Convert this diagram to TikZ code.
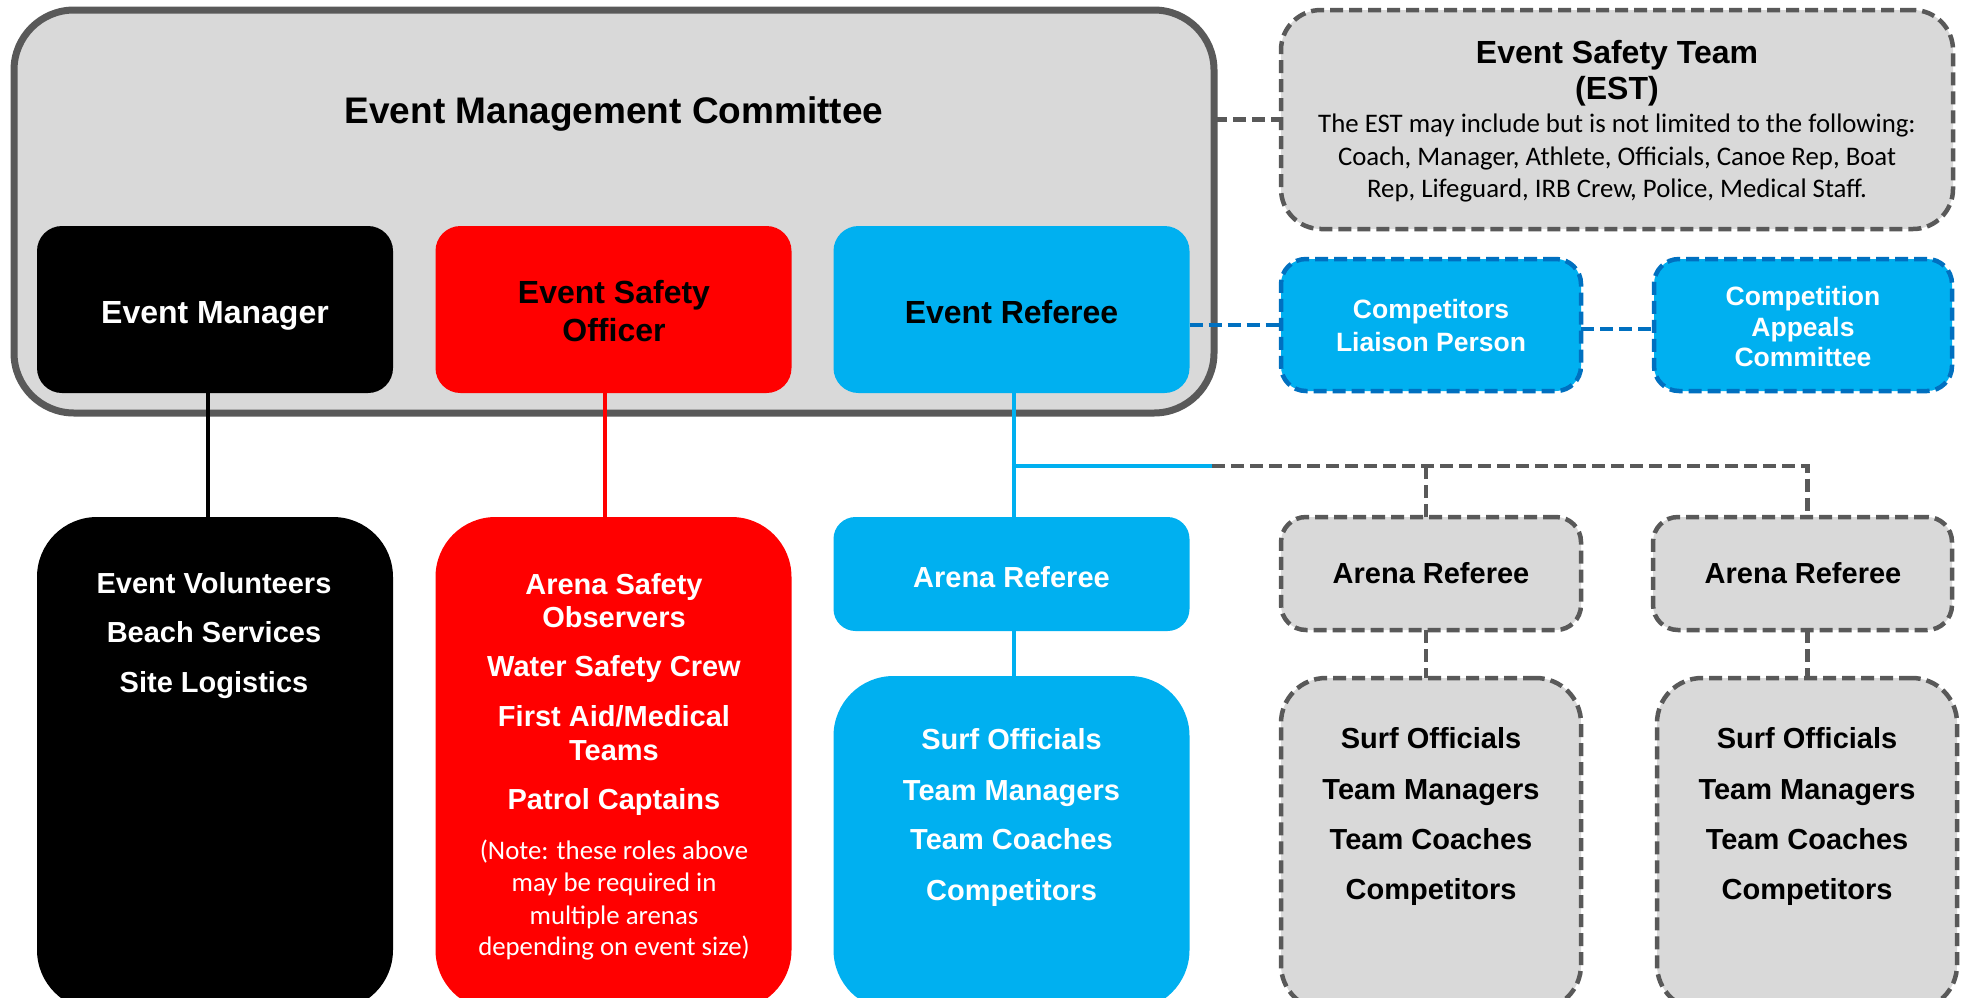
\documentclass[tikz,border=0pt]{standalone}
\usepackage{fontspec}
\setmainfont{Liberation Sans}
\newfontfamily\calibri{Carlito}
\usetikzlibrary{calc}
\definecolor{gfill}{HTML}{D9D9D9}
\definecolor{gline}{HTML}{595959}
\definecolor{cyanb}{HTML}{00B0F0}
\definecolor{dblue}{HTML}{0070C0}
\definecolor{redb}{HTML}{FF0000}
\tikzset{
  rbox/.style={rectangle, inner sep=0pt, outer sep=0pt},
  gdash/.style={draw=gline, line width=4.5pt, dash pattern=on 13pt off 6pt},
  bdash/.style={draw=dblue, line width=4.5pt, dash pattern=on 13pt off 6pt},
  t37/.style={inner sep=0pt, font=\fontsize{37}{44}\selectfont\bfseries, text height=27pt, text depth=0pt},
  t32/.style={inner sep=0pt, font=\fontsize{32}{38}\selectfont\bfseries, text height=23pt, text depth=0pt},
  t29/.style={inner sep=0pt, font=\fontsize{29}{35}\selectfont\bfseries, text height=21pt, text depth=0pt},
  t26/.style={inner sep=0pt, font=\fontsize{26.5}{32}\selectfont\bfseries, text height=19pt, text depth=0pt},
  c26/.style={inner sep=0pt, font=\fontsize{26.8}{32}\selectfont\calibri, text height=17pt, text depth=0pt},
}
\begin{document}
\begin{tikzpicture}[x=1pt,y=-1pt]
\fill[white] (0,0) rectangle (1964,997);
\clip (0,0) rectangle (1964,997);

% Committee
\node[rbox, fill=gfill, draw=gline, line width=7pt, rounded corners=60pt, minimum width=1200pt, minimum height=403pt] (emc) at (614,211.5) {};
\node[t37] (emct) at (614,110) {Event Management Committee};
\node[rbox, fill=black, rounded corners=25pt, minimum width=356pt, minimum height=167pt] (em) at (215,309.5) {};
\node[rbox, fill=redb, rounded corners=25pt, minimum width=356pt, minimum height=167pt] (eso) at (613.5,309.5) {};
\node[rbox, fill=cyanb, rounded corners=25pt, minimum width=356pt, minimum height=167pt] (er) at (1011.5,309.5) {};
\node[t32, white] (emt) at (215,312) {Event Manager};
\node[t32] (esot1) at (614,292) {Event Safety};
\node[t32] (esot2) at (614,330) {Officer};
\node[t32] (ert) at (1011.5,312) {Event Referee};

% EST
\node[rbox, fill=gfill, gdash, rounded corners=40pt, minimum width=672pt, minimum height=219pt] (est) at (1617,119.5) {};
\node[t32] (estt1) at (1617,52) {Event Safety Team};
\node[t32] (estt2) at (1617,88) {(EST)};
\node[c26] (estb1) at (1617,124) {The EST may include but is not limited to the following:};
\node[c26] (estb2) at (1617,157) {Coach, Manager, Athlete, Officials, Canoe Rep, Boat};
\node[c26] (estb3) at (1617,189) {Rep, Lifeguard, IRB Crew, Police, Medical Staff.};

% Blue dashed boxes
\node[rbox, fill=cyanb, bdash, rounded corners=25pt, minimum width=300pt, minimum height=132pt] (clp) at (1431,325) {};
\node[rbox, fill=cyanb, bdash, rounded corners=25pt, minimum width=298pt, minimum height=132pt] (cac) at (1803,325) {};
\node[t26, white] (clpt1) at (1431,309) {Competitors};
\node[t26, white] (clpt2) at (1431,342) {Liaison Person};
\node[t26, white] (cact1) at (1803,296) {Competition};
\node[t26, white] (cact2) at (1803,327) {Appeals};
\node[t26, white] (cact3) at (1803,357) {Committee};

% Lower boxes
\node[rbox, fill=black, rounded corners=60pt, minimum width=356pt, minimum height=493pt] (vol) at (215,763.5) {};
\node[rbox, fill=redb, rounded corners=60pt, minimum width=356pt, minimum height=493pt] (rbx) at (613.5,763.5) {};
\node[rbox, fill=cyanb, rounded corners=22pt, minimum width=356pt, minimum height=114pt] (arb) at (1011.5,574) {};
\node[rbox, fill=cyanb, rounded corners=60pt, minimum width=356pt, minimum height=334pt] (bbx) at (1011.5,843) {};
\node[rbox, fill=gfill, gdash, rounded corners=25pt, minimum width=300pt, minimum height=113pt] (ar1) at (1431,573.5) {};
\node[rbox, fill=gfill, gdash, rounded corners=25pt, minimum width=299pt, minimum height=113pt] (ar2) at (1802.5,573.5) {};
\node[rbox, fill=gfill, gdash, rounded corners=45pt, minimum width=300pt, minimum height=332pt] (sf1) at (1431,844) {};
\node[rbox, fill=gfill, gdash, rounded corners=45pt, minimum width=300pt, minimum height=332pt] (sf2) at (1807,844) {};

% black box text
\node[t29, white] (v1) at (214,583) {Event Volunteers};
\node[t29, white] (v2) at (214,632) {Beach Services};
\node[t29, white] (v3) at (214,682) {Site Logistics};
% red box text
\node[t29, white] (r1) at (614,584) {Arena Safety};
\node[t29, white] (r2) at (614,617) {Observers};
\node[t29, white] (r3) at (614,666) {Water Safety Crew};
\node[t29, white] (r4) at (614,716) {First Aid/Medical};
\node[t29, white] (r5) at (614,750) {Teams};
\node[t29, white] (r6) at (614,799) {Patrol Captains};
\node[c26, white] (n1) at (614,851) {(Note: these roles above};
\node[c26, white] (n2) at (614,883) {may be required in};
\node[c26, white] (n3) at (614,916) {multiple arenas};
\node[c26, white] (n4) at (614,947) {depending on event size)};
% blue text
\node[t29, white] (arbt) at (1011.5,577) {Arena Referee};
\node[t29, white] (b1) at (1011.5,739) {Surf Officials};
\node[t29, white] (b2) at (1011.5,790) {Team Managers};
\node[t29, white] (b3) at (1011.5,839) {Team Coaches};
\node[t29, white] (b4) at (1011.5,890) {Competitors};
% gray text
\node[t29] (ar1t) at (1431,573) {Arena Referee};
\node[t29] (ar2t) at (1803,573) {Arena Referee};
\node[t29] (g11) at (1431,738) {Surf Officials};
\node[t29] (g12) at (1431,789) {Team Managers};
\node[t29] (g13) at (1431,839) {Team Coaches};
\node[t29] (g14) at (1431,889) {Competitors};
\node[t29] (g21) at (1807,738) {Surf Officials};
\node[t29] (g22) at (1807,789) {Team Managers};
\node[t29] (g23) at (1807,839) {Team Coaches};
\node[t29] (g24) at (1807,889) {Competitors};

% connectors
\draw[gdash] (emc.east |- est.west) -- (est.west);
\draw[bdash] (er.east |- clp.west) -- (clp.west);
\draw[bdash] ([yshift=-4pt]clp.east) -- ([yshift=-4pt]cac.west);
\draw[black, line width=4.5pt] ([xshift=-7pt]em.south) -- ([xshift=-7pt]vol.north);
\draw[redb, line width=4.5pt] ([xshift=-8.5pt]eso.south) -- ([xshift=-8.5pt]rbx.north);
\draw[cyanb, line width=4.5pt] ([xshift=2.5pt]er.south) -- ([xshift=2.5pt]arb.north);
\draw[cyanb, line width=4.5pt] ([xshift=2.5pt]arb.south) -- ([xshift=2.5pt]bbx.north);
\coordinate (j) at (1014,466);
\coordinate (k) at (1212,466);
\coordinate (t2) at (1807.5,466);
\draw[cyanb, line width=4.5pt] ([xshift=-2.25pt]j) -- (k);
\draw[gdash] (k) -- (t2) -- (t2 |- ar2.north);
\draw[gdash] ([xshift=-5pt]ar1.north) -- ([xshift=-5pt]ar1.north |- k);
\draw[gdash] ([xshift=-5pt]ar1.south) -- ([xshift=-5pt]sf1.north);
\draw[gdash] ([xshift=5pt]ar2.south) -- ([xshift=5pt]ar2.south |- sf2.north);
\end{tikzpicture}
\end{document}
